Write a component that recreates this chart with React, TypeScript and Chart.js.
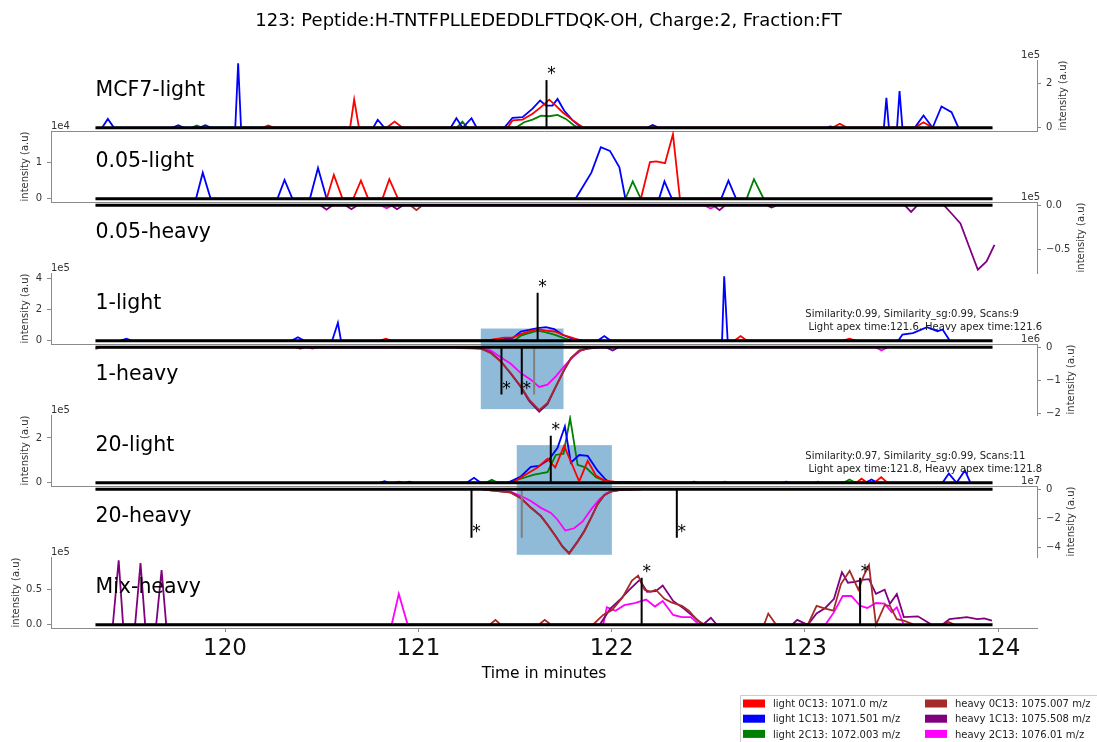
import { useEffect, useRef } from 'react';
import { Chart, registerables } from 'chart.js';

Chart.register(...registerables);

type Pt = [number, number];

const WIDTH = 1097;
const HEIGHT = 742;
const FONT = '"DejaVu Sans", "Liberation Sans", sans-serif';
const SPINE = '#8a8a8a';

// Shared plot frame (pixels): every panel uses the same horizontal extent
const FRAME_LEFT = 51;
const FRAME_RIGHT = 1037;
const FRAME_TOP = 60;
const PANEL_HEIGHT = 71;
const X_AXIS_HEIGHT = 60;

const TITLE = '123: Peptide:H-TNTFPLLEDEDDLFTDQK-OH, Charge:2, Fraction:FT';
const X_TITLE = 'Time in minutes';
const Y_TITLE = 'intensity (a.u)';

// Retention time axis (minutes)
const X_MIN = 119.1;
const X_MAX = 124.2;
const X_TICKS = [120, 121, 122, 123, 124];
const RUN_START = 119.33;
const RUN_END = 123.97;

const SERIES_NAMES = [
  'light 0C13: 1071.0 m/z',
  'light 1C13: 1071.501 m/z',
  'light 2C13: 1072.003 m/z',
  'heavy 0C13: 1075.007 m/z',
  'heavy 1C13: 1075.508 m/z',
  'heavy 2C13: 1076.01 m/z',
];
const SERIES_COLORS = ['#ff0000', '#0000ff', '#008000', '#a52a2a', '#800080', '#ff00ff'];

// ---- MCF7-light (intensity x1e5) ----
const mcf7Red: Pt[] = [[120.193,0],[120.224,0.1],[120.255,0],[120.647,0],[120.668,1.27],[120.693,0],[120.836,0],[120.877,0.28],[120.919,0],[121.461,0],[121.487,0.33],[121.539,0.37],[121.591,0.63],[121.634,0.93],[121.677,1.27],[121.711,1.0],[121.746,0.7],[121.789,0.4],[121.824,0.18],[121.855,0],[123.141,0],[123.18,0.18],[123.219,0],[123.567,0],[123.613,0.25],[123.66,0]];
const mcf7Blue: Pt[] = [[119.364,0],[119.394,0.4],[119.426,0],[119.727,0],[119.758,0.12],[119.789,0],[119.867,0],[119.898,0.12],[119.929,0],[120.053,0],[120.068,2.91],[120.083,0],[120.766,0],[120.79,0.36],[120.825,0],[121.167,0],[121.197,0.43],[121.229,0],[121.275,0.43],[121.302,0],[121.444,0],[121.487,0.45],[121.539,0.48],[121.591,0.86],[121.63,1.23],[121.66,1.0],[121.694,1.0],[121.72,1.3],[121.754,0.78],[121.798,0.33],[121.841,0.03],[121.856,0],[122.183,0],[122.212,0.13],[122.245,0],[123.106,0],[123.131,0.06],[123.157,0],[123.408,0],[123.421,1.35],[123.434,0],[123.476,0],[123.489,1.65],[123.504,0],[123.567,0],[123.613,0.55],[123.66,0],[123.706,0.96],[123.758,0.7],[123.794,0]];
const mcf7Green: Pt[] = [[119.825,0],[119.854,0.1],[119.882,0],[121.198,0],[121.228,0.28],[121.255,0],[121.504,0],[121.547,0.25],[121.591,0.37],[121.634,0.55],[121.677,0.52],[121.72,0.58],[121.763,0.4],[121.806,0.1],[121.831,0]];
const mcf7Apex: Pt[] = [[121.663, 2.15]];

// ---- 0.05-light (intensity x1e4) ----
const lowLightRed: Pt[] = [[120.526,0],[120.563,0.66],[120.608,0],[120.663,0],[120.703,0.5],[120.741,0],[120.814,0],[120.85,0.54],[120.895,0],[122.151,0],[122.198,1.01],[122.231,1.03],[122.276,0.98],[122.317,1.78],[122.353,0]];
const lowLightBlue: Pt[] = [[119.85,0],[119.885,0.72],[119.926,0],[120.271,0],[120.308,0.52],[120.349,0],[120.439,0],[120.481,0.85],[120.526,0],[121.813,0],[121.895,0.72],[121.944,1.42],[121.991,1.32],[122.04,0.87],[122.071,0],[122.245,0],[122.273,0.48],[122.312,0],[122.566,0],[122.604,0.5],[122.644,0]];
const lowLightGreen: Pt[] = [[122.071,0],[122.109,0.48],[122.151,0],[122.698,0],[122.736,0.54],[122.786,0]];

// ---- 0.05-heavy (intensity x1e5) ----
const lowHeavyBrown: Pt[] = [[120.959,0],[120.99,-0.056],[121.021,0]];
const lowHeavyPurple: Pt[] = [[120.494,0],[120.525,-0.05],[120.556,0],[120.623,0],[120.654,-0.045],[120.685,0],[120.859,0],[120.89,-0.045],[120.921,0],[122.525,0],[122.558,-0.056],[122.587,0],[122.8,0],[122.827,-0.026],[122.856,0],[123.515,0],[123.549,-0.076],[123.582,0],[123.718,0],[123.758,-0.094],[123.804,-0.207],[123.852,-0.489],[123.894,-0.734],[123.939,-0.64],[123.98,-0.451]];
const lowHeavyMagenta: Pt[] = [[120.805,0],[120.836,-0.035],[120.867,0],[122.478,0],[122.512,-0.037],[122.545,0]];

// ---- 1-light (intensity x1e5) ----
const oneLightRed: Pt[] = [[120.8,0],[120.832,0.13],[120.862,0],[121.34,0],[121.444,0.2],[121.487,0.2],[121.53,0.43],[121.573,0.6],[121.617,0.75],[121.66,0.65],[121.703,0.6],[121.746,0.39],[121.798,0.19],[121.841,0],[122.634,0],[122.667,0.3],[122.701,0],[123.193,0],[123.23,0.13],[123.266,0]];
const oneLightBlue: Pt[] = [[119.458,0],[119.49,0.13],[119.52,0],[120.344,0],[120.377,0.23],[120.411,0],[120.554,0],[120.584,1.16],[120.6,0],[121.323,0],[121.444,0.1],[121.487,0.17],[121.53,0.6],[121.573,0.7],[121.617,0.82],[121.66,0.88],[121.703,0.75],[121.746,0.39],[121.789,0.17],[121.832,0.06],[121.856,0],[121.927,0],[121.962,0.3],[121.996,0],[122.571,0],[122.582,4.17],[122.6,0],[123.482,0],[123.504,0.4],[123.558,0.5],[123.631,0.88],[123.686,0.62],[123.712,0.73],[123.749,0]];
const oneLightGreen: Pt[] = [[121.495,0],[121.53,0.33],[121.573,0.5],[121.617,0.65],[121.66,0.55],[121.703,0.4],[121.746,0.2],[121.798,0]];
const oneLightApex: Pt[] = [[121.617, 3.1]];

// ---- 1-heavy (intensity x1e6) ----
const oneHeavyBrown: Pt[] = [[119.33,-0.05],[119.36,0],[121.167,0],[121.219,-0.03],[121.323,-0.04],[121.375,-0.18],[121.426,-0.43],[121.478,-0.78],[121.53,-1.18],[121.573,-1.58],[121.625,-1.9],[121.668,-1.68],[121.711,-1.18],[121.754,-0.68],[121.789,-0.33],[121.832,-0.1],[121.876,-0.04],[121.945,0]];
const oneHeavyPurple: Pt[] = [[120.36,0],[120.39,-0.04],[120.42,0],[121.219,0],[121.323,-0.04],[121.375,-0.16],[121.426,-0.42],[121.478,-0.8],[121.53,-1.2],[121.573,-1.62],[121.625,-1.95],[121.668,-1.72],[121.711,-1.2],[121.754,-0.7],[121.789,-0.34],[121.832,-0.1],[121.876,-0.04],[121.945,0],[121.97,0],[122.005,-0.1],[122.037,0]];
const oneHeavyMagenta: Pt[] = [[120.42,0],[120.452,-0.04],[120.48,0],[121.323,0],[121.375,-0.1],[121.426,-0.3],[121.478,-0.5],[121.53,-0.78],[121.582,-0.98],[121.625,-1.2],[121.668,-1.13],[121.711,-0.88],[121.754,-0.58],[121.798,-0.3],[121.841,-0.1],[121.876,-0.03],[121.919,0],[123.365,0],[123.396,-0.1],[123.426,0]];
const oneHeavyApex: Pt[] = [[121.43, -1.43], [121.535, -1.43]];
const oneHeavyRef: Pt[] = [[121.599, -1.43]];
const oneWindow = [121.323, 121.751];
const oneWindowLight = 0.79;
const oneWindowHeavy = -1.87;
const oneInfo = ['Similarity:0.99, Similarity_sg:0.99, Scans:9', ' Light apex time:121.6, Heavy apex time:121.6'];

// ---- 20-light (intensity x1e5) ----
const twentyLightRed: Pt[] = [[120.872,0],[120.898,0.05],[120.924,0],[121.487,0],[121.547,0.32],[121.617,0.68],[121.668,1.07],[121.708,0.68],[121.754,1.65],[121.798,0.76],[121.832,0.06],[121.876,0.98],[121.919,0.32],[121.962,0.1],[122.013,0.05],[122.152,0.03],[122.229,0],[123.038,0],[123.067,0.05],[123.095,0],[123.266,0],[123.292,0.18],[123.323,0],[123.359,0],[123.394,0.25],[123.426,0]];
const twentyLightBlue: Pt[] = [[120.8,0],[120.825,0.07],[120.851,0],[120.929,0],[120.954,0.05],[120.981,0],[121.25,0],[121.288,0.22],[121.323,0],[121.461,0],[121.53,0.28],[121.582,0.71],[121.625,0.75],[121.677,1.05],[121.72,1.56],[121.758,2.51],[121.789,0.9],[121.832,1.24],[121.876,1.2],[121.927,0.54],[121.97,0.13],[121.996,0],[122.4,0],[122.426,0.05],[122.452,0],[122.877,0],[122.903,0.05],[122.929,0],[123.312,0],[123.344,0.15],[123.375,0],[123.711,0],[123.744,0.41],[123.784,0],[123.827,0.55],[123.856,0]];
const twentyLightGreen: Pt[] = [[121.349,0],[121.38,0.13],[121.411,0],[121.461,0],[121.53,0.18],[121.599,0.36],[121.668,0.47],[121.711,1.24],[121.751,1.3],[121.785,2.88],[121.824,0.8],[121.867,0.68],[121.919,0.25],[121.962,0.1],[122.007,0],[122.561,0],[122.585,0.05],[122.612,0],[123.199,0],[123.23,0.15],[123.261,0]];
const twentyLightApex: Pt[] = [[121.685, 2.1]];

// ---- 20-heavy (intensity x1e7) ----
const twentyHeavyBrown: Pt[] = [[121.323,0],[121.375,-0.07],[121.478,-0.23],[121.53,-0.62],[121.582,-1.27],[121.634,-1.85],[121.668,-2.43],[121.711,-3.24],[121.746,-3.94],[121.78,-4.4],[121.824,-3.59],[121.858,-2.9],[121.893,-1.97],[121.927,-1.04],[121.962,-0.4],[121.996,-0.16],[122.048,-0.05],[122.152,0]];
const twentyHeavyPurple: Pt[] = [[121.323,0],[121.375,-0.07],[121.478,-0.22],[121.53,-0.6],[121.582,-1.25],[121.634,-1.82],[121.668,-2.4],[121.711,-3.2],[121.746,-3.9],[121.78,-4.35],[121.824,-3.55],[121.858,-2.85],[121.893,-1.95],[121.927,-1.02],[121.962,-0.4],[121.996,-0.15],[122.048,-0.05],[122.152,0]];
const twentyHeavyMagenta: Pt[] = [[121.323,0],[121.375,-0.05],[121.478,-0.16],[121.53,-0.46],[121.582,-0.8],[121.634,-1.27],[121.686,-1.62],[121.72,-2.08],[121.76,-2.82],[121.806,-2.66],[121.85,-2.2],[121.893,-1.39],[121.936,-0.69],[121.97,-0.3],[122.013,-0.1],[122.074,0]];
const twentyHeavyApex: Pt[] = [[121.275, -3.3], [122.337, -3.3]];
const twentyHeavyRef: Pt[] = [[121.535, -3.3]];
const twentyWindow = [121.509, 122.001];
const twentyWindowLight = 1.68;
const twentyWindowHeavy = -4.47;
const twentyInfo = ['Similarity:0.97, Similarity_sg:0.99, Scans:11', ' Light apex time:121.8, Heavy apex time:121.8'];

// ---- Mix-heavy (intensity x1e5) ----
const mixBrown: Pt[] = [[121.369,0],[121.399,0.07],[121.426,0],[121.623,0],[121.654,0.07],[121.686,0],[121.903,0],[121.956,0.14],[122.002,0.21],[122.056,0.39],[122.105,0.63],[122.137,0.7],[122.17,0.5],[122.201,0.47],[122.228,0.5],[122.273,0.37],[122.309,0.32],[122.363,0.27],[122.399,0.2],[122.445,0.06],[122.481,0],[122.788,0],[122.81,0.16],[122.851,0],[123.014,0],[123.06,0.27],[123.105,0.23],[123.147,0.2],[123.186,0.58],[123.231,0.77],[123.276,0.5],[123.304,0.7],[123.331,0.85],[123.367,0],[123.412,0.28],[123.439,0.27],[123.475,0.08],[123.511,0.06],[123.566,0],[123.712,0],[123.743,0.04],[123.774,0]];
const mixPurple: Pt[] = [[119.42,0],[119.45,0.92],[119.473,0],[119.535,0],[119.563,0.88],[119.587,0],[119.644,0],[119.672,0.78],[119.696,0],[121.938,0],[121.993,0.23],[122.047,0.37],[122.092,0.5],[122.145,0.64],[122.183,0.47],[122.228,0.48],[122.264,0.56],[122.318,0.34],[122.373,0.23],[122.426,0.11],[122.472,0],[122.513,0.1],[122.544,0],[122.933,0],[122.96,0.07],[123.014,0],[123.06,0.16],[123.105,0.24],[123.15,0.37],[123.191,0.75],[123.222,0.6],[123.259,0.61],[123.294,0.64],[123.331,0.65],[123.367,0.44],[123.412,0.5],[123.439,0.3],[123.475,0.44],[123.511,0.11],[123.584,0.12],[123.656,0],[123.71,0],[123.747,0.08],[123.837,0.11],[123.891,0.08],[123.927,0.09],[123.967,0.06]];
const mixMagenta: Pt[] = [[120.862,0],[120.899,0.44],[120.945,0],[121.956,0],[121.975,0.25],[122.02,0.2],[122.065,0.28],[122.119,0.31],[122.178,0.36],[122.224,0.26],[122.264,0.34],[122.318,0.14],[122.363,0.11],[122.409,0.11],[122.454,0],[123.105,0],[123.15,0.18],[123.195,0.41],[123.24,0.41],[123.285,0.27],[123.322,0.24],[123.367,0.31],[123.412,0.3],[123.448,0.18],[123.475,0.25],[123.511,0]];
const mixApex: Pt[] = [[122.155, 0.67], [123.285, 0.67]];

interface Panel {
  name: string;
  exponent: string;
  side: 'left' | 'right';
  heavy: boolean;
  series: Pt[][];
  ticks: number[];
  tickLabels: string[];
  apex: Pt[];
  refs: Pt[];
  window?: { range: number[]; value: number };
  info?: string[];
}

const PANELS: Panel[] = [
  { name: 'MCF7-light', exponent: '1e5', side: 'right', heavy: false, series: [mcf7Red, mcf7Blue, mcf7Green, [], [], []], ticks: [0, 2], tickLabels: ['0', '2'], apex: mcf7Apex, refs: [] },
  { name: '0.05-light', exponent: '1e4', side: 'left', heavy: false, series: [lowLightRed, lowLightBlue, lowLightGreen, [], [], []], ticks: [0, 1], tickLabels: ['0', '1'], apex: [], refs: [] },
  { name: '0.05-heavy', exponent: '1e5', side: 'right', heavy: true, series: [[], [], [], lowHeavyBrown, lowHeavyPurple, lowHeavyMagenta], ticks: [0, -0.5], tickLabels: ['0.0', '\u22120.5'], apex: [], refs: [] },
  { name: '1-light', exponent: '1e5', side: 'left', heavy: false, series: [oneLightRed, oneLightBlue, oneLightGreen, [], [], []], ticks: [0, 2, 4], tickLabels: ['0', '2', '4'], apex: oneLightApex, refs: [], window: { range: oneWindow, value: oneWindowLight }, info: oneInfo },
  { name: '1-heavy', exponent: '1e6', side: 'right', heavy: true, series: [[], [], [], oneHeavyBrown, oneHeavyPurple, oneHeavyMagenta], ticks: [0, -1, -2], tickLabels: ['0', '\u22121', '\u22122'], apex: oneHeavyApex, refs: oneHeavyRef, window: { range: oneWindow, value: oneWindowHeavy } },
  { name: '20-light', exponent: '1e5', side: 'left', heavy: false, series: [twentyLightRed, twentyLightBlue, twentyLightGreen, [], [], []], ticks: [0, 2], tickLabels: ['0', '2'], apex: twentyLightApex, refs: [], window: { range: twentyWindow, value: twentyWindowLight }, info: twentyInfo },
  { name: '20-heavy', exponent: '1e7', side: 'right', heavy: true, series: [[], [], [], twentyHeavyBrown, twentyHeavyPurple, twentyHeavyMagenta], ticks: [0, -2, -4], tickLabels: ['0', '\u22122', '\u22124'], apex: twentyHeavyApex, refs: twentyHeavyRef, window: { range: twentyWindow, value: twentyWindowHeavy } },
  { name: 'Mix-heavy', exponent: '1e5', side: 'left', heavy: false, series: [[], [], [], mixBrown, mixPurple, mixMagenta], ticks: [0, 0.5], tickLabels: ['0.0', '0.5'], apex: mixApex, refs: [] },
];

function makeLine(pts: Pt[], color: string, width: number) {
  return {
    data: pts.map(([x, y]) => ({ x, y })),
    borderColor: color,
    backgroundColor: color,
    borderWidth: width,
    pointRadius: 0,
    tension: 0,
    fill: false,
  };
}

// Texts and shaded integration window drawn on top of each panel
function decorPlugin(panel: Panel, index: number, count: number) {
  return {
    id: 'decor' + index,
    beforeDatasetsDraw(chart: any) {
      if (!panel.window) return;
      const { ctx, chartArea, scales } = chart;
      const x0 = scales.x.getPixelForValue(panel.window.range[0]);
      const x1 = scales.x.getPixelForValue(panel.window.range[1]);
      const yv = scales.y.getPixelForValue(panel.window.value);
      const yA = panel.heavy ? chartArea.top : yv;
      const yB = panel.heavy ? yv : chartArea.bottom;
      ctx.save();
      ctx.fillStyle = 'rgba(31,119,180,0.5)';
      ctx.fillRect(x0, yA, x1 - x0, yB - yA);
      ctx.restore();
    },
    afterDraw(chart: any) {
      const { ctx, chartArea, scales } = chart;
      const xs = scales.x;
      const ys = scales.y;
      ctx.save();

      // panel name
      ctx.fillStyle = '#000';
      ctx.font = `20.5px ${FONT}`;
      ctx.textAlign = 'left';
      ctx.textBaseline = 'alphabetic';
      ctx.fillText(panel.name, xs.getPixelForValue(RUN_START), chartArea.top + 36);

      // y-axis title and exponent
      ctx.font = `10px ${FONT}`;
      ctx.fillStyle = '#333';
      const tickW = Math.max(...panel.tickLabels.map((t) => ctx.measureText(t).width));
      const midY = (chartArea.top + chartArea.bottom) / 2;
      const labelX = panel.side === 'left'
        ? chartArea.left - 9 - tickW - 10
        : chartArea.right + 9 + tickW + 11;
      ctx.save();
      ctx.translate(labelX, midY);
      ctx.rotate(-Math.PI / 2);
      ctx.textAlign = 'center';
      ctx.textBaseline = 'middle';
      ctx.fillText(Y_TITLE, 0, 0);
      ctx.restore();
      ctx.textBaseline = 'alphabetic';
      if (panel.side === 'left') {
        ctx.textAlign = 'left';
        ctx.fillText(panel.exponent, chartArea.left, chartArea.top - 2.5);
      } else {
        ctx.textAlign = 'right';
        ctx.fillText(panel.exponent, chartArea.right + 3, chartArea.top - 2.5);
      }

      // apex markers
      ctx.fillStyle = '#000';
      ctx.font = `17px ${FONT}`;
      ctx.textAlign = 'center';
      for (const [t, v] of panel.apex) {
        const px = xs.getPixelForValue(t) + 5;
        const py = ys.getPixelForValue(v) - 10;
        ctx.fillText('*', px, py + 9);
      }

      // similarity summary
      if (panel.info) {
        ctx.font = `10px ${FONT}`;
        ctx.fillStyle = '#222';
        ctx.textAlign = 'left';
        const ix = chartArea.left + (chartArea.right - chartArea.left) * 0.765;
        panel.info.forEach((line, k) => ctx.fillText(line, ix, chartArea.top + 44 + k * 13));
      }

      if (index === 0) {
        ctx.font = `18px ${FONT}`;
        ctx.fillStyle = '#000';
        ctx.textAlign = 'center';
        ctx.fillText(TITLE, WIDTH / 2, 26);
      }

      if (index === count - 1) {
        ctx.font = `15.5px ${FONT}`;
        ctx.fillStyle = '#000';
        ctx.textAlign = 'center';
        ctx.fillText(X_TITLE, (chartArea.left + chartArea.right) / 2, 678);

        // legend
        const bx = 740.5, by = 695.5;
        ctx.fillStyle = 'rgba(255,255,255,0.8)';
        ctx.strokeStyle = '#cccccc';
        ctx.lineWidth = 1;
        ctx.beginPath();
        ctx.rect(bx, by, 380, 70);
        ctx.fill();
        ctx.stroke();
        ctx.font = `10px ${FONT}`;
        ctx.textAlign = 'left';
        SERIES_NAMES.forEach((name, k) => {
          const col = Math.floor(k / 3);
          const row = k % 3;
          const cy = 703.5 + row * 15.2;
          const px = col === 0 ? 743 : 925;
          ctx.fillStyle = SERIES_COLORS[k];
          ctx.fillRect(px, cy - 4, 22, 8);
          ctx.fillStyle = '#222';
          ctx.fillText(name, px + 30, cy + 3.6);
        });
      }
      ctx.restore();
    },
  };
}

function buildChart(canvas: HTMLCanvasElement, panel: Panel, index: number, count: number) {
  const top = FRAME_TOP + index * PANEL_HEIGHT;
  const bottom = top + PANEL_HEIGHT;
  const isLast = index === count - 1;
  const xAxisHeight = isLast ? X_AXIS_HEIGHT : 0;

  const values = [0, ...panel.series.flat().map((p) => p[1]), ...panel.apex.map((p) => p[1]), ...panel.refs.map((p) => p[1])];
  const lo = Math.min(...values);
  const hi = Math.max(...values);
  const margin = (hi - lo) * 0.05;

  const datasets = [
    makeLine([[RUN_START, 0], [RUN_END, 0]], '#000000', 3),
    ...panel.apex.map(([t, v]) => makeLine([[t, 0], [t, v]], '#000000', 2)),
    ...panel.refs.map(([t, v]) => makeLine([[t, 0], [t, v]], '#808080', 2)),
    ...panel.series.map((pts, k) => makeLine(pts, SERIES_COLORS[k], 1.8)),
  ];

  return new Chart(canvas, {
    type: 'line',
    data: { datasets },
    options: {
      responsive: false,
      animation: false,
      devicePixelRatio: 1,
      events: [],
      layout: {
        padding: {
          top,
          bottom: HEIGHT - bottom - xAxisHeight,
          left: panel.side === 'left' ? 0 : FRAME_LEFT,
          right: panel.side === 'right' ? 0 : WIDTH - FRAME_RIGHT,
        },
      },
      plugins: {
        legend: { display: false },
        title: { display: false },
        tooltip: { enabled: false },
      },
      scales: {
        x: {
          type: 'linear',
          position: panel.heavy ? 'top' : 'bottom',
          min: X_MIN,
          max: X_MAX,
          z: 1,
          afterBuildTicks: (s: any) => { s.ticks = X_TICKS.map((value) => ({ value })); },
          afterFit: (s: any) => { s.height = xAxisHeight; },
          grid: { display: isLast, drawOnChartArea: false, drawTicks: isLast, tickLength: 4, color: SPINE },
          border: { display: true, color: SPINE, width: 1 },
          ticks: {
            display: isLast,
            autoSkip: false,
            maxRotation: 0,
            padding: 3,
            color: '#111',
            font: { family: FONT, size: 23 },
            callback: (v: any) => String(v),
          },
        },
        y: {
          type: 'linear',
          position: panel.side,
          min: lo - margin,
          max: hi + margin,
          z: 1,
          afterBuildTicks: (s: any) => { s.ticks = panel.ticks.map((value) => ({ value })); },
          afterFit: (s: any) => { s.width = panel.side === 'left' ? FRAME_LEFT : WIDTH - FRAME_RIGHT; },
          grid: { display: true, drawOnChartArea: false, drawTicks: true, tickLength: 4, color: SPINE },
          border: { display: true, color: SPINE, width: 1 },
          ticks: {
            autoSkip: false,
            padding: 5,
            color: '#333',
            font: { family: FONT, size: 10 },
            callback: (_v: any, i: number) => panel.tickLabels[i],
          },
        },
      },
    } as any,
    plugins: [decorPlugin(panel, index, count)],
  });
}

export default function App() {
  const canvases = useRef<(HTMLCanvasElement | null)[]>([]);

  useEffect(() => {
    const charts = PANELS.map((panel, i) => buildChart(canvases.current[i] as HTMLCanvasElement, panel, i, PANELS.length));
    return () => charts.forEach((c) => c.destroy());
  }, []);

  return (
    <div style={{ position: 'absolute', left: 0, top: 0, width: WIDTH, height: HEIGHT, background: '#fff', overflow: 'hidden' }}>
      {PANELS.map((p, i) => (
        <canvas
          key={p.name}
          ref={(el) => { canvases.current[i] = el; }}
          width={WIDTH}
          height={HEIGHT}
          style={{ position: 'absolute', left: 0, top: 0, width: WIDTH, height: HEIGHT }}
        />
      ))}
    </div>
  );
}
